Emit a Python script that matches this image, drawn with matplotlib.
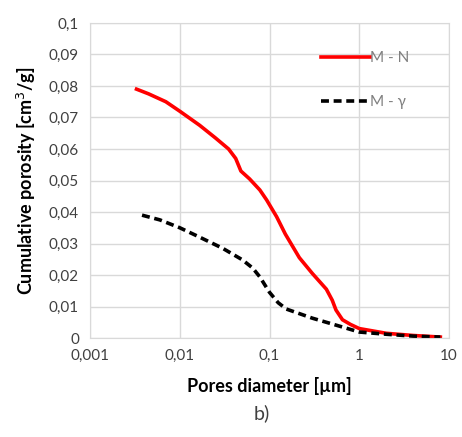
import numpy as np
import matplotlib.pyplot as plt
from matplotlib.ticker import FixedLocator, FuncFormatter

plt.rcParams['font.family'] = ['Lato', 'DejaVu Sans']

# M - N curve (pore diameter in um, cumulative porosity in cm3/g)
d_mn = [0.0033, 0.0045, 0.007, 0.01, 0.0167, 0.025, 0.035, 0.042, 0.048, 0.06, 0.078, 0.093,
        0.12, 0.15, 0.215, 0.3, 0.43, 0.5, 0.55, 0.65, 0.8, 1.0, 2.0, 4.0, 8.0]
p_mn = [0.079, 0.0775, 0.075, 0.072, 0.0675, 0.0635, 0.06, 0.057, 0.053, 0.0505, 0.047, 0.0438,
        0.0385, 0.033, 0.0255, 0.0205, 0.0155, 0.012, 0.0089, 0.0058, 0.0043, 0.003, 0.0015, 0.0008, 0.0003]

# M - gamma curve
d_mg = [0.0038, 0.006, 0.01, 0.0167, 0.03, 0.05, 0.065, 0.078, 0.1, 0.125, 0.154, 0.3,
        0.55, 1.0, 2.0, 4.0, 8.0]
p_mg = [0.039, 0.0375, 0.035, 0.032, 0.0285, 0.0248, 0.0222, 0.0194, 0.0145, 0.0112, 0.0092, 0.0063,
        0.0041, 0.0019, 0.0012, 0.0006, 0.0003]

xticks = [0.001, 0.01, 0.1, 1, 10]
xtick_labels = ['0,001', '0,01', '0,1', '1', '10']
yticks = [0, 0.01, 0.02, 0.03, 0.04, 0.05, 0.06, 0.07, 0.08, 0.09, 0.1]

fig = plt.figure(figsize=(4.62, 4.37), dpi=100)
ax = fig.add_axes([0.1948, 0.2265, 0.7771, 0.7209])

ax.plot(d_mn, p_mn, color='#ff0000', lw=2.6, label='M - N')
ax.plot(d_mg, p_mg, color='black', lw=2.6, ls=(0, (2.2, 1.3)), label='M - \u03b3')

ax.set_xscale('log')
ax.set_xlim(0.001, 10)
ax.set_ylim(0, 0.1)
ax.xaxis.set_major_locator(FixedLocator(xticks))
ax.xaxis.set_minor_locator(FixedLocator([]))
ax.set_xticklabels(xtick_labels)
ax.yaxis.set_major_locator(FixedLocator(yticks))
ax.yaxis.set_major_formatter(FuncFormatter(lambda v, p: '0' if v == 0 else ('%g' % round(v, 2)).replace('.', ',')))

ax.grid(True, color='#d9d9d9', lw=1)
ax.set_axisbelow(True)
for s in ax.spines.values():
    s.set_color('#d9d9d9')
ax.tick_params(length=0, labelsize=11, labelcolor='#404040', pad=8)

ax.set_ylabel('Cumulative porosity [cm$^3$/g]', fontsize=13, fontweight='bold', labelpad=8)
ax.set_xlabel('Pores diameter [\u00b5m]', fontsize=13, fontweight='bold', labelpad=10)

leg = ax.legend(loc='upper left', frameon=False,
                fontsize=11, labelspacing=2.0, handlelength=3.2, handletextpad=0.0)
for t in leg.get_texts():
    t.set_color('#7f7f7f')
leg.set_bbox_to_anchor((0.665, 0.915), transform=fig.transFigure)

fig.text(0.567, 0.04, 'b)', fontsize=14, color='#404040', ha='center')

fig.savefig('out.png', dpi=100)
